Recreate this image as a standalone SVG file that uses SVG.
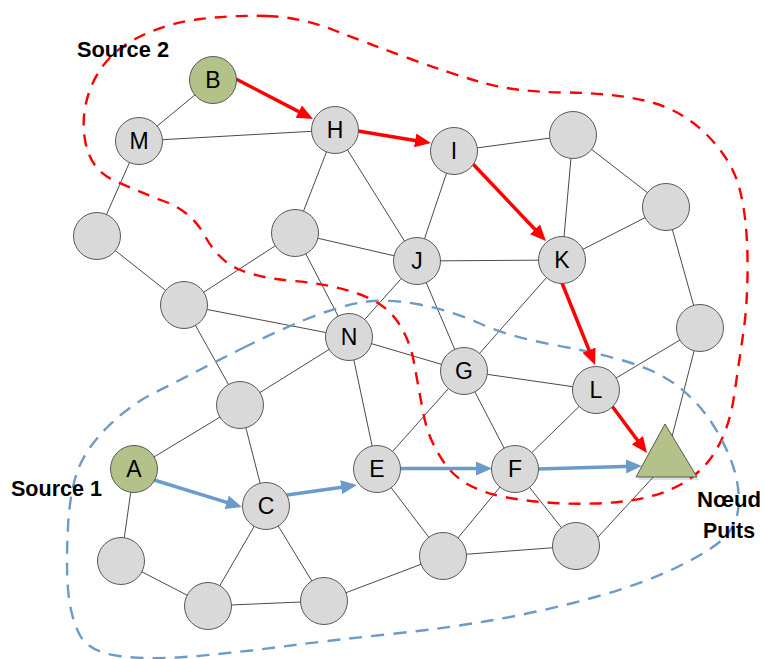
<svg xmlns="http://www.w3.org/2000/svg" width="764" height="659" viewBox="0 0 764 659">
<defs>
<style>
.edge{stroke:#4a4a4a;stroke-width:1;fill:none}
.node{fill:#D9D9D9;stroke:#595959;stroke-width:1}
.src{fill:#B3C288;stroke:#595959;stroke-width:1}
.lbl{font-family:"Liberation Sans",Arial,sans-serif;font-size:23px;fill:#000;text-anchor:middle}
.title{font-family:"Liberation Sans",Arial,sans-serif;font-size:22px;font-weight:bold;fill:#000}
.red{stroke:#FF0000;stroke-width:3.5;fill:none;marker-end:url(#ahRed)}
.blue{stroke:#6A9BCB;stroke-width:3.5;fill:none;marker-end:url(#ahBlue)}
.rdash{stroke:#FF0000;stroke-width:2.4;fill:none;stroke-dasharray:12 9}
.bdash{stroke:#6C9BC9;stroke-width:2.4;fill:none;stroke-dasharray:13 9}
</style>
<marker id="ahRed" markerUnits="userSpaceOnUse" markerWidth="16" markerHeight="14" refX="6" refY="7" orient="auto">
<path d="M0,0 L16,7 L0,14 Z" fill="#FF0000"/>
</marker>
<marker id="ahBlue" markerUnits="userSpaceOnUse" markerWidth="16" markerHeight="14" refX="6" refY="7" orient="auto">
<path d="M0,0 L16,7 L0,14 Z" fill="#6A9BCB"/>
</marker>
</defs>
<rect width="764" height="659" fill="#FFFFFF"/>

<g id="connectors">
<line class="edge" x1="213" y1="80" x2="139" y2="141"/>
<line class="edge" x1="139" y1="141" x2="335" y2="130"/>
<line class="edge" x1="139" y1="141" x2="97" y2="236"/>
<line class="edge" x1="97" y1="236" x2="184" y2="305"/>
<line class="edge" x1="184" y1="305" x2="295" y2="233"/>
<line class="edge" x1="184" y1="305" x2="349" y2="337"/>
<line class="edge" x1="184" y1="305" x2="240" y2="405"/>
<line class="edge" x1="335" y1="130" x2="295" y2="233"/>
<line class="edge" x1="335" y1="130" x2="417" y2="261"/>
<line class="edge" x1="295" y1="233" x2="417" y2="261"/>
<line class="edge" x1="295" y1="233" x2="349" y2="337"/>
<line class="edge" x1="454" y1="151" x2="417" y2="261"/>
<line class="edge" x1="454" y1="151" x2="573" y2="135"/>
<line class="edge" x1="573" y1="135" x2="562" y2="260"/>
<line class="edge" x1="573" y1="135" x2="666" y2="207"/>
<line class="edge" x1="666" y1="207" x2="562" y2="260"/>
<line class="edge" x1="666" y1="207" x2="700" y2="328"/>
<line class="edge" x1="417" y1="261" x2="562" y2="260"/>
<line class="edge" x1="417" y1="261" x2="349" y2="337"/>
<line class="edge" x1="417" y1="261" x2="464" y2="371"/>
<line class="edge" x1="562" y1="260" x2="464" y2="371"/>
<line class="edge" x1="349" y1="337" x2="464" y2="371"/>
<line class="edge" x1="349" y1="337" x2="240" y2="405"/>
<line class="edge" x1="349" y1="337" x2="377" y2="469"/>
<line class="edge" x1="464" y1="371" x2="596" y2="390"/>
<line class="edge" x1="464" y1="371" x2="377" y2="469"/>
<line class="edge" x1="464" y1="371" x2="515" y2="469"/>
<line class="edge" x1="596" y1="390" x2="515" y2="469"/>
<line class="edge" x1="596" y1="390" x2="700" y2="328"/>
<line class="edge" x1="700" y1="328" x2="666" y2="460"/>
<line class="edge" x1="240" y1="405" x2="134" y2="469"/>
<line class="edge" x1="240" y1="405" x2="266" y2="506"/>
<line class="edge" x1="134" y1="469" x2="121" y2="561"/>
<line class="edge" x1="121" y1="561" x2="208" y2="606"/>
<line class="edge" x1="208" y1="606" x2="266" y2="506"/>
<line class="edge" x1="208" y1="606" x2="324" y2="601"/>
<line class="edge" x1="266" y1="506" x2="324" y2="601"/>
<line class="edge" x1="324" y1="601" x2="443" y2="556"/>
<line class="edge" x1="377" y1="469" x2="443" y2="556"/>
<line class="edge" x1="515" y1="469" x2="443" y2="556"/>
<line class="edge" x1="443" y1="556" x2="576" y2="546"/>
<line class="edge" x1="515" y1="469" x2="576" y2="546"/>
<line class="edge" x1="598" y1="537" x2="657" y2="473"/>

<path class="rdash" d="M 266.5,16 Q 300,17 333.5,30 Q 367,43 408,58 Q 449,73 482,82.5 Q 515,92 565,92.5 Q 615,93 648.5,101.5 Q 682,110 707,135 Q 732,160 739.5,188.5 Q 747,217 747.5,258.5 Q 748,300 743.5,331.5 Q 739,363 734,396.5 Q 729,430 714,453.5 Q 699,477 670.5,489.5 Q 642,502 595.5,503.5 Q 549,505 507,497.5 Q 465,490 447,466.5 Q 429,443 423.5,414 Q 418,385 414,362.5 Q 410,340 397.5,321.5 Q 385,303 357.5,293.5 Q 330,284 294,281 Q 258,278 238,269 Q 218,260 205,236 Q 192,212 166,202 Q 140,192 115,181 Q 90,170 85,140 Q 80,110 93.5,81.5 Q 107,53 137,38 Q 167,23 200,19 Q 233,15 266.5,16 Z"/>
<path class="bdash" d="M 243,348 Q 273,333 303,320.5 Q 333,308 358,303 Q 383,298 416.5,304 Q 450,310 480,323.5 Q 510,337 554.5,345 Q 599,353 629.5,362.5 Q 660,372 679.5,387.5 Q 699,403 712.5,424 Q 726,445 733,466 Q 740,487 738.5,506 Q 737,525 724.5,537.5 Q 712,550 678.5,566.5 Q 645,583 597,596.5 Q 549,610 499,619 Q 449,628 391,634 Q 333,640 283,646.5 Q 233,653 191.5,656.5 Q 150,660 119,656 Q 88,652 79,633.5 Q 70,615 68,589 Q 66,563 68,526.5 Q 70,490 78.5,468.5 Q 87,447 108.5,426 Q 130,405 155,392.5 Q 180,380 196.5,371.5 Q 213,363 243,348 Z"/>

<line class="red" x1="236" y1="79" x2="304.1" y2="114.4"/>
<line class="red" x1="358" y1="131" x2="421.1" y2="141.4"/>
<line class="red" x1="472" y1="163" x2="539.1" y2="233.7"/>
<line class="red" x1="562" y1="283" x2="591.3" y2="355.7"/>
<line class="red" x1="612" y1="406" x2="641" y2="445"/>

<line class="blue" x1="154" y1="480" x2="232.4" y2="504.1"/>
<line class="blue" x1="287" y1="495" x2="347.1" y2="486.4"/>
<line class="blue" x1="400" y1="468.5" x2="482" y2="468.5"/>
<line class="blue" x1="538" y1="469" x2="632" y2="466.3"/>
</g>

<g id="node-B"><circle class="src" cx="213" cy="80" r="23.5"/><text class="lbl" x="213" y="88">B</text></g>
<g id="node-M"><circle class="node" cx="139" cy="141" r="23.5"/><text class="lbl" x="139" y="149">M</text></g>
<g id="node-H"><circle class="node" cx="335" cy="130" r="23.5"/><text class="lbl" x="335" y="138">H</text></g>
<g id="node-I"><circle class="node" cx="454" cy="151" r="23.5"/><text class="lbl" x="454" y="159">I</text></g>
<g id="node-T1"><circle class="node" cx="573" cy="135" r="23.5"/></g>
<g id="node-T2"><circle class="node" cx="666" cy="207" r="23.5"/></g>
<g id="node-L1"><circle class="node" cx="97" cy="236" r="23.5"/></g>
<g id="node-P1"><circle class="node" cx="295" cy="233" r="23.5"/></g>
<g id="node-J"><circle class="node" cx="417" cy="261" r="23.5"/><text class="lbl" x="417" y="269">J</text></g>
<g id="node-K"><circle class="node" cx="562" cy="260" r="23.5"/><text class="lbl" x="562" y="268">K</text></g>
<g id="node-P2"><circle class="node" cx="184" cy="305" r="23.5"/></g>
<g id="node-N"><circle class="node" cx="349" cy="337" r="23.5"/><text class="lbl" x="349" y="345">N</text></g>
<g id="node-R1"><circle class="node" cx="700" cy="328" r="23.5"/></g>
<g id="node-G"><circle class="node" cx="464" cy="371" r="23.5"/><text class="lbl" x="464" y="379">G</text></g>
<g id="node-L"><circle class="node" cx="596" cy="390" r="23.5"/><text class="lbl" x="596" y="398">L</text></g>
<g id="node-P3"><circle class="node" cx="240" cy="405" r="23.5"/></g>
<g id="node-A"><circle class="src" cx="134" cy="469" r="23.5"/><text class="lbl" x="134" y="477">A</text></g>
<g id="node-E"><circle class="node" cx="377" cy="469" r="23.5"/><text class="lbl" x="377" y="477">E</text></g>
<g id="node-F"><circle class="node" cx="515" cy="469" r="23.5"/><text class="lbl" x="515" y="477">F</text></g>
<g id="node-C"><circle class="node" cx="266" cy="506" r="23.5"/><text class="lbl" x="266" y="514">C</text></g>
<g id="node-P4"><circle class="node" cx="121" cy="561" r="23.5"/></g>
<g id="node-P5"><circle class="node" cx="443" cy="556" r="23.5"/></g>
<g id="node-P6"><circle class="node" cx="576" cy="546" r="23.5"/></g>
<g id="node-P7"><circle class="node" cx="208" cy="606" r="23.5"/></g>
<g id="node-P8"><circle class="node" cx="324" cy="601" r="23.5"/></g>

<g id="node-sink">
<polygon points="667,427 638,480 699,480" fill="#000" opacity="0.12"/>
<polygon points="665,424 636,477 697,477" fill="#B3C288" stroke="#595959" stroke-width="1"/>
</g>

<g id="labels">
<text class="title" x="77" y="57" textLength="92" lengthAdjust="spacingAndGlyphs">Source 2</text>
<text class="title" x="11" y="496" textLength="91" lengthAdjust="spacingAndGlyphs">Source 1</text>
<text class="title" x="697" y="507" textLength="64" lengthAdjust="spacingAndGlyphs">Nœud</text>
<text class="title" x="703" y="538" textLength="52" lengthAdjust="spacingAndGlyphs">Puits</text>
</g>
</svg>
